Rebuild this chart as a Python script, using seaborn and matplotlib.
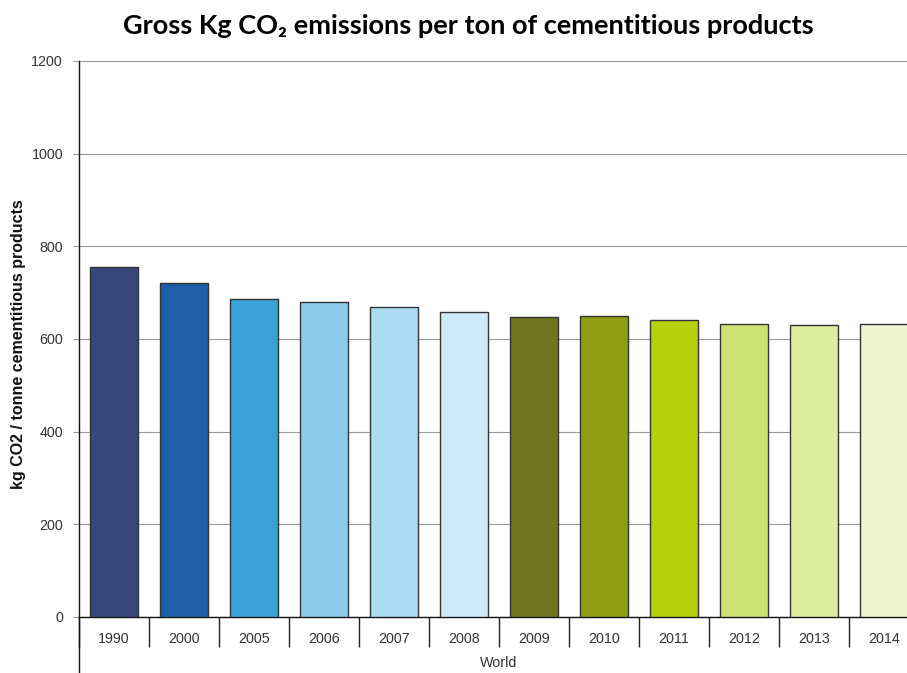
import matplotlib
matplotlib.use("Agg")
import matplotlib.pyplot as plt
import seaborn as sns
import numpy as np
import pandas as pd
from matplotlib.lines import Line2D

years = ["1990", "2000", "2005", "2006", "2007", "2008",
         "2009", "2010", "2011", "2012", "2013", "2014"]
values = [756, 721, 686, 679, 668, 658, 647, 650, 642, 632, 630, 632]
colors = ["#38477a", "#1f5fa8", "#3aa2d6", "#8ccbe9", "#aadbf0", "#cfeaf7",
          "#6f7421", "#8e9f12", "#b4d10c", "#cde173", "#deec9d", "#eef5cf"]
yticks = [0, 200, 400, 600, 800, 1000, 1200]

title = "Gross Kg CO\u2082 emissions per ton of cementitious products"
ylabel = "kg CO2 / tonne cementitious products"
xlabel = "World"

sns.set_theme(style="white")
plt.rcParams['font.family'] = ['Liberation Sans', 'DejaVu Sans']

W, H = 907, 673
fig = plt.figure(figsize=(W / 100, H / 100), dpi=100)
ax = fig.add_axes([79 / W, (H - 617) / H, 828 / W, (617 - 61) / H])

df = pd.DataFrame({"year": years, "value": values})
sns.barplot(data=df, x="year", y="value", hue="year", palette=colors,
            legend=False, width=0.69, edgecolor="#333333", linewidth=1.0,
            saturation=1, ax=ax, zorder=3)

ax.set_yticks(yticks)
ax.set_yticklabels([str(v) for v in yticks], fontsize=10.3, color="#333333")
ax.yaxis.grid(True, color="#999999", linewidth=0.8, zorder=0)
ax.set_axisbelow(True)

ax.set_xticks(range(len(years)))
ax.set_xticklabels(years, fontsize=10.3, color="#333333")
ax.set_xticks(np.arange(-0.5, len(years), 1), minor=True)
ax.tick_params(axis="x", which="major", length=0, pad=10.5, bottom=True)
ax.tick_params(axis="x", which="minor", length=21.5, width=1.0, color="#222222",
               direction="out", bottom=True)
ax.tick_params(axis="y", which="major", length=4.5, width=0.8, color="#999999",
               pad=7, left=True, direction="out")

ax.set_ylim(0, 1200)
ax.set_xlim(-0.5, 11.33)

for s in ["top", "right"]:
    ax.spines[s].set_visible(False)
ax.spines["left"].set_color("#111111")
ax.spines["left"].set_linewidth(1.0)
ax.spines["bottom"].set_color("#111111")
ax.spines["bottom"].set_linewidth(1.0)
ax.set_xlabel("")
ax.set_ylabel("")

# extension of left axis below zero
fig.add_artist(Line2D([79 / W, 79 / W], [(H - 617) / H, 0], color="#111111",
                      linewidth=1.0, transform=fig.transFigure))

fig.text(499 / W, 1 - 663 / H, xlabel, ha="center", va="center", fontsize=10.3, color="#333333")
fig.text(19 / W, 1 - 344 / H, ylabel, ha="center", va="center", rotation=90,
         fontsize=11.5, fontweight="bold", color="#111111")
fig.text(468 / W, 1 - 26 / H, title, ha="center", va="center", fontsize=19.5,
         fontweight="bold", color="#000000", family=["Lato", "DejaVu Sans"])

fig.savefig("out.png", dpi=100)
